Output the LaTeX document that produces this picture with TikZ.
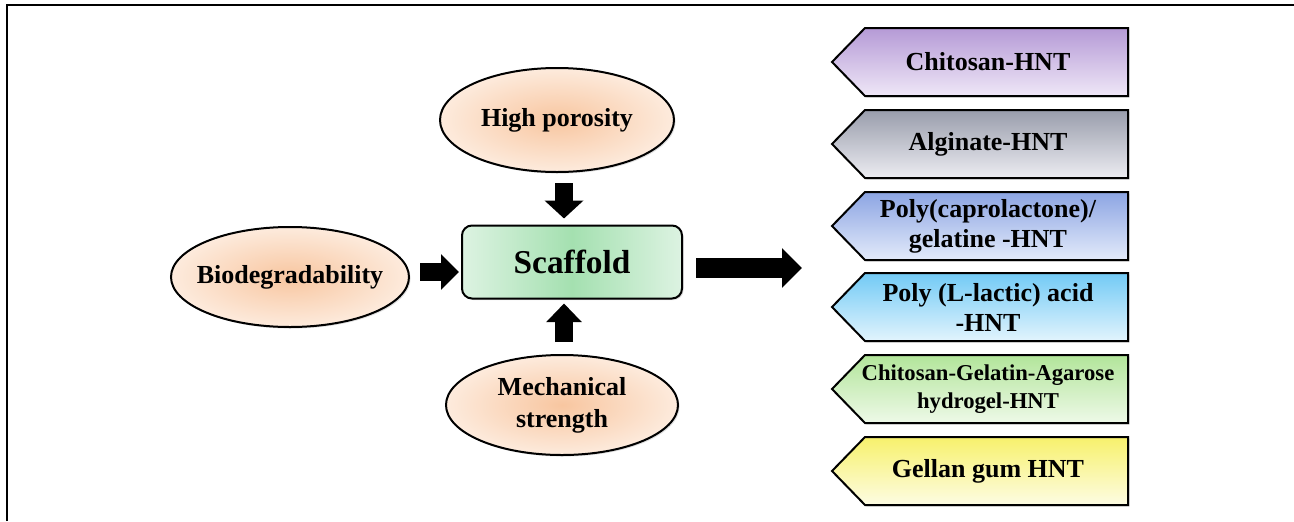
\documentclass[tikz,border=0pt]{standalone}
\usepackage{fontspec}
\setmainfont{Liberation Serif}
\usetikzlibrary{shapes.geometric,arrows.meta,shadows}
\definecolor{peachin}{HTML}{F8C6A0}
\definecolor{peachout}{HTML}{FDEBDD}
\definecolor{grmid}{HTML}{A4E0B0}
\definecolor{gredge}{HTML}{DDF3E2}
\definecolor{c1t}{HTML}{B59AD6}\definecolor{c1b}{HTML}{EFE7F7}
\definecolor{c2t}{HTML}{999DAC}\definecolor{c2b}{HTML}{ECECF1}
\definecolor{c3t}{HTML}{8CA5E3}\definecolor{c3b}{HTML}{E3EAFA}
\definecolor{c4t}{HTML}{72CAF5}\definecolor{c4b}{HTML}{E2F4FD}
\definecolor{c5t}{HTML}{B2E59A}\definecolor{c5b}{HTML}{EEF9E8}
\definecolor{c6t}{HTML}{F7F16C}\definecolor{c6b}{HTML}{FDFCE3}
\newcommand\pentbox[6][]{%
  \path[draw=black, line width=1.5pt, line join=miter, top color=#3, bottom color=#4,
        drop shadow={opacity=.25,shadow xshift=1.2pt,shadow yshift=-1.2pt}]
     (832,#2+34) -- (865,#2) -- (1128,#2) -- (1128,#2+68) -- (865,#2+68) -- cycle;
  \node[ptext,#1] (#5) at (988,#2+34) {#6};}
\begin{document}
\begin{tikzpicture}[x=0.75pt,y=-0.75pt,
  oval/.style={ellipse, draw=black, line width=1.5pt, inner color=peachin, outer color=peachout,
     inner sep=0pt,
     drop shadow={opacity=.25,shadow xshift=1.2pt,shadow yshift=-1.2pt}},
  ovaltext/.style={align=center, inner sep=0pt, font=\fontsize{19.5}{24}\selectfont\bfseries},
  scbox/.style={rectangle, rounded corners=7.5pt, draw=black, line width=1.5pt,
     left color=gredge, right color=gredge, middle color=grmid,
     minimum width=165pt, minimum height=54.75pt, inner sep=0pt,
     font=\fontsize{25}{30}\selectfont\bfseries,
     drop shadow={opacity=.25,shadow xshift=1.2pt,shadow yshift=-1.2pt}},
  ptext/.style={align=center, inner sep=0pt, font=\fontsize{19.5}{22.5}\selectfont\bfseries},
  blk/.style n args={3}{draw=black, line width=#1, -{Triangle[width=#2,length=#3]}}
]
\useasboundingbox (0,0) rectangle (1294,521);
\draw[line width=1.5pt] (7,521) -- (7,5) -- (1294,5);

\node[oval, minimum width=175.5pt, minimum height=78pt,
      label={[ovaltext]center:High porosity}] (hp) at (557,120) {};
\node[oval, minimum width=178.5pt, minimum height=75pt,
      label={[ovaltext]center:Biodegradability}] (bio) at (290,277) {};
\node[oval, minimum width=174pt, minimum height=75pt,
      label={[ovaltext]center:Mechanical\\strength}] (mech) at (562,405) {};
\node[scbox] (sc) at (572,262) {Scaffold};
\coordinate (out) at (802,268);

\draw[blk={13.5pt}{28.5pt}{13.5pt}] ([xshift=5.25pt,yshift=-7.5pt]hp.south) -- ([xshift=-6pt,yshift=4.5pt]sc.north);
\draw[blk={13.5pt}{26pt}{14pt}] ([xshift=1.5pt,yshift=9pt]mech.north) -- ([xshift=-6pt,yshift=-3pt]sc.south);
\draw[blk={14pt}{26pt}{13.5pt}] ([xshift=7.5pt,yshift=3.75pt]bio.east) -- ([xshift=-1.5pt,yshift=-7.5pt]sc.west);
\draw[blk={15pt}{29pt}{15pt}] ([xshift=9.75pt,yshift=-4.5pt]sc.east) -- (out);

\pentbox{28}{c1t}{c1b}{p1}{Chitosan-HNT}
\pentbox{110}{c2t}{c2b}{p2}{Alginate-HNT}
\pentbox{192}{c3t}{c3b}{p3}{Poly(caprolactone)/\\gelatine -HNT}
\pentbox{273}{c4t}{c4b}{p4}{Poly (L-lactic) acid\\-HNT}
\pentbox[font=\fontsize{17}{21}\selectfont\bfseries]{355}{c5t}{c5b}{p5}{Chitosan-Gelatin-Agarose\\hydrogel-HNT}
\pentbox{437}{c6t}{c6b}{p6}{Gellan gum HNT}
\end{tikzpicture}
\end{document}
